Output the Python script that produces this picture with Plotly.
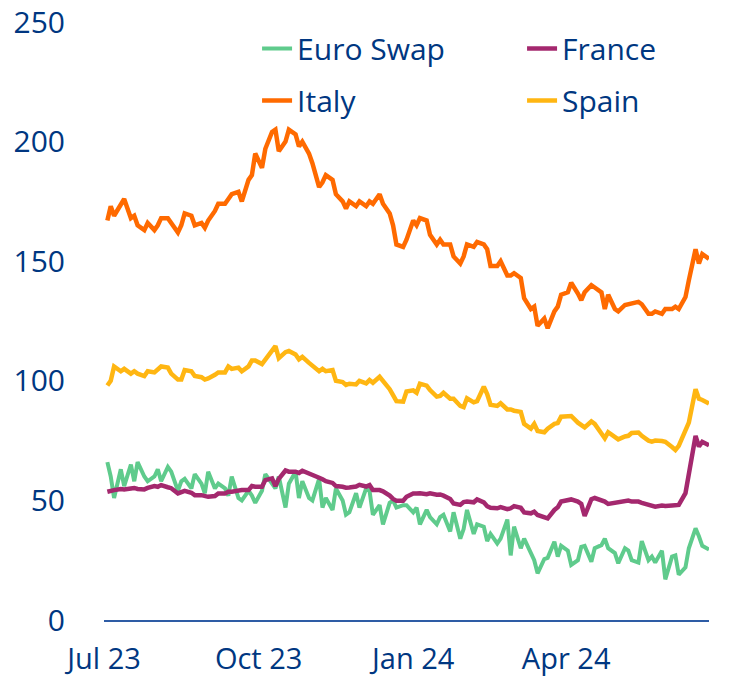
import pandas as pd
import plotly.graph_objects as go

# Spreads in basis points, sampled every second business day from 3 Jul 2023
# (ten values per row = four weeks)
euro_swap = [
    66, 60, 51, 63, 56, 65, 58, 66, 60, 58,
    60, 63, 58, 64, 62, 54, 58, 59, 55, 61,
    57, 53, 62, 55, 57, 55, 52, 60, 51, 50,
    54, 52, 49, 54, 61, 57, 55, 60, 47, 57,
    62, 51, 58, 51, 50, 59, 47, 51, 46, 55,
    50, 44, 45, 53, 47, 55, 54, 44, 48, 40,
    49, 50, 47, 48, 48, 45, 47, 40, 46, 43,
    40, 43, 44, 37, 45, 34, 38, 46, 36, 40,
    39, 33, 36, 32, 34, 42, 27, 39, 30, 34,
    28, 25, 19.5, 25.5, 26, 32.7, 26.5, 31, 29, 23,
    25, 30.6, 31, 24.4, 30, 31.3, 34, 30, 28, 23.7,
    30, 29, 25, 24, 33, 25, 26.5, 24, 29, 17,
    26.5, 27, 19, 22, 30, 38.3, 35, 31, 29.5,
]

france = [
    53.6, 54.2, 54.3, 54.8, 54.6, 55, 55.2, 54.8, 54.6, 55.2,
    56, 55.7, 56.4, 55.5, 55.1, 52.9, 53.5, 54, 53.2, 52.2,
    52.2, 52, 51.5, 51.8, 52.9, 52.9, 53.6, 53.6, 54.1, 54.3,
    54.3, 56, 55.7, 55.7, 58.5, 59.2, 56, 59, 62.5, 62,
    62, 61.5, 62.4, 61.3, 61, 59.5, 58.8, 58, 57.3, 56,
    55.7, 55.3, 55.4, 55.8, 56.5, 55.8, 56.4, 54.3, 54.3, 53.8,
    52, 50.6, 49.9, 49.9, 51.5, 52.9, 52.9, 53, 52.6, 53,
    52.4, 52.5, 52, 50.6, 48.7, 48.1, 49.3, 49.5, 49.2, 50.4,
    49.2, 47.6, 46.9, 46.7, 47.2, 46.3, 46.7, 47.6, 46.9, 45,
    44.6, 45.3, 43.9, 43, 42.5, 46, 47.1, 49.5, 50.2, 50.4,
    49.5, 48.5, 43.5, 50.5, 51, 50.2, 49.5, 48.5, 49, 48.8,
    49.5, 49.9, 49.5, 49.5, 49, 48.3, 47.7, 47.4, 47.9, 47.7,
    47.9, 48.1, 48.1, 53, 62, 77, 72.5, 74.5, 73,
]

italy = [
    167, 173, 169, 174, 176, 168, 169, 165, 163, 166,
    163, 165, 168, 168, 166, 162, 165, 170, 169, 165,
    166, 164, 167, 171, 174, 174, 176, 178, 179, 175,
    184, 186, 195, 189, 197, 204, 205, 196, 200, 205,
    203, 198, 200, 195, 191, 181, 183, 186, 184, 178,
    175, 172, 175, 173, 175, 173, 175, 174, 178, 174,
    170, 165, 157, 156, 159, 167, 165, 168, 167, 161,
    157, 159, 157, 157, 152, 149, 152, 157, 156, 158,
    157, 155, 148, 148, 150, 144, 144, 145, 143, 134.5,
    130, 131, 123, 126, 122, 129, 131, 136, 137, 141,
    136.5, 133.7, 137, 140, 139, 137, 130, 136, 130, 129,
    131.7, 132, 132, 133, 132, 128, 128, 129, 128, 130,
    130, 131, 130, 135, 142, 155, 149, 153, 151,
]

spain = [
    98, 100, 106, 104, 105, 103, 104, 103, 102, 104,
    103.5, 105, 106, 105.5, 103, 100.5, 100.5, 104.5, 104, 102,
    101.5, 100.5, 101, 102.5, 103.5, 103.5, 106, 105, 105.5, 104,
    106, 108.5, 108.5, 107, 109, 112.5, 114.5, 109.5, 112, 112.5,
    111, 109, 110, 107.5, 106.5, 104, 105, 104, 104.5, 100,
    99.5, 98.3, 98.8, 98.5, 100, 98.9, 100.3, 99.2, 101.7, 100,
    96.5, 94, 91.5, 91.3, 95.5, 96, 95, 98.8, 98, 96.1,
    93.4, 93.7, 95, 92.5, 92.5, 89.5, 89, 92.7, 91, 91.5,
    97.5, 94.5, 90, 89.5, 90.6, 88, 88, 87.5, 87, 82,
    80, 82, 79, 78.5, 80, 82, 82.3, 85, 85.3, 85.3,
    82.5, 81.5, 80.5, 83, 82, 78, 76, 78.5, 76.5, 75.5,
    76.7, 77, 78.2, 78.4, 77, 75, 74.6, 75, 74.8, 74.5,
    72.3, 71.1, 72.8, 79, 82.5, 96.5, 92.5, 92, 90.5,
]

y_ticks = [0, 50, 100, 150, 200, 250]

dates = pd.date_range("2023-07-03", periods=len(italy), freq="2B")

BLUE = "#003781"
FONT = "Open Sans"
FONT_SIZE = 30

# name, values, colour, line width, legend column
series = [
    ("Euro Swap", euro_swap, "#5FCB8C", 4, "legend"),
    ("France", france, "#A4286E", 4.5, "legend2"),
    ("Italy", italy, "#FF6A00", 4.5, "legend"),
    ("Spain", spain, "#FFB612", 4.5, "legend2"),
]

fig = go.Figure()
for name, values, color, width, leg in series:
    fig.add_trace(go.Scatter(
        x=dates, y=values, name=name, mode="lines",
        line=dict(color=color, width=width),
        legend=leg, legendgroup=name,
    ))

legend_common = dict(
    orientation="v", xanchor="left", yanchor="top", y=0.999,
    tracegroupgap=10,
    font=dict(family=FONT, size=FONT_SIZE, color=BLUE),
    bgcolor="rgba(0,0,0,0)", itemclick=False, itemdoubleclick=False,
)

fig.update_layout(
    width=743, height=679,
    margin=dict(l=104, r=34, t=22, b=59),
    paper_bgcolor="white", plot_bgcolor="white",
    showlegend=True,
    legend=dict(legend_common, x=0.253),
    legend2=dict(legend_common, x=0.691),
    xaxis=dict(
        type="date",
        range=["2023-07-01", "2024-06-25"],
        tick0="2023-07-01", dtick="M3", tickformat="%b %y",
        showgrid=False, zeroline=False,
        showline=True, linecolor="#2E5CA5", linewidth=2,
        ticks="", ticklabelstandoff=12, automargin=False,
        tickfont=dict(family=FONT, size=29, color=BLUE),
    ),
    yaxis=dict(
        range=[0, 250], tickvals=y_ticks,
        showgrid=False, zeroline=False, showline=False,
        ticks="", ticklabelstandoff=38, automargin=False,
        tickfont=dict(family=FONT, size=FONT_SIZE, color=BLUE),
    ),
)

fig.write_html("out.html")
